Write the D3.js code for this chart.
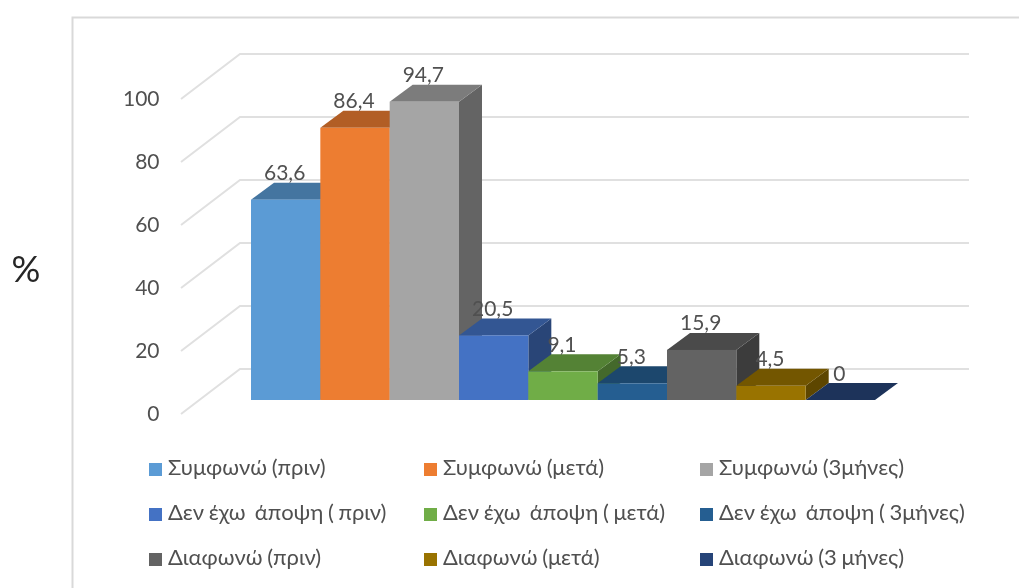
<!DOCTYPE html>
<html>
<head>
<meta charset="utf-8">
<script src="https://cdn.jsdelivr.net/npm/d3@7"></script>
<style>
body { margin: 0; background: #fff; }
svg { display: block; filter: blur(0.4px); }
text { font-family: Lato, sans-serif; fill: #505050; white-space: pre; }
</style>
</head>
<body>
<div id="chart"></div>
<script>
var w = 1019;
var h = 588;

// series names, in the order they sit on the chart
var categories = [
  "Συμφωνώ (πριν)", "Συμφωνώ (μετά)", "Συμφωνώ (3μήνες)",
  "Δεν έχω  άποψη ( πριν)", "Δεν έχω  άποψη ( μετά)", "Δεν έχω  άποψη ( 3μήνες)",
  "Διαφωνώ (πριν)", "Διαφωνώ (μετά)", "Διαφωνώ (3 μήνες)"
];
var values = [63.6, 86.4, 94.7, 20.5, 9.1, 5.3, 15.9, 4.5, 0];
var valueLabels = ["63,6", "86,4", "94,7", "20,5", "9,1", "5,3", "15,9", "4,5", "0"];
var colors = ["#5b9bd5", "#ed7d31", "#a5a5a5", "#4472c4", "#70ad47", "#255e91", "#636363", "#997300", "#264478"];
var yTicks = [0, 20, 40, 60, 80, 100];

var baseY = 400;      // bottom of the bars
var depthX = 23;      // bar depth
var depthY = 17;

var xScale = d3.scaleBand()
              .domain(categories)
              .range([251, 875]);

var yScale = d3.scaleLinear()
              .domain([0, 100])
              .range([baseY, baseY - 315]);

var svg = d3.select("#chart")
            .append("svg")
            .attr("width", w)
            .attr("height", h);

// outer frame, only left and top show
svg.append("path")
  .attr("d", "M72.5," + h + "V17.5H" + w)
  .attr("fill", "none")
  .attr("stroke", "#d9d9d9")
  .attr("stroke-width", 2);

// gridlines: front wall point to back wall, then across
var grid = svg.append("g")
  .attr("fill", "none")
  .attr("stroke", "#e0e0e0")
  .attr("stroke-width", 2);

grid.selectAll("path")
  .data(yTicks)
  .enter()
  .append("path")
  .attr("d", function(d) {
    var y = yScale(d);
    return "M181," + (y + 14) + "L240," + (y - 31) + "H969";
  });

// y axis labels
var yAxis = d3.axisLeft(yScale)
              .tickValues(yTicks)
              .tickSize(0)
              .tickPadding(0);

var axisG = svg.append("g")
  .attr("transform", "translate(159.5,14)")
  .call(yAxis);
axisG.select(".domain").remove();
axisG.selectAll("text")
  .style("font-family", "Lato, sans-serif")
  .style("font-size", "21px")
  .style("fill", "#505050");

svg.append("text")
  .attr("x", 26)
  .attr("y", 282)
  .attr("text-anchor", "middle")
  .style("font-size", "36px")
  .style("fill", "#262626")
  .text("%");

// bars go left to right so each one covers the side of the previous
var bars = svg.selectAll(".bar")
  .data(categories)
  .enter()
  .append("g")
  .attr("class", "bar");

// side
bars.append("path")
  .attr("fill", function(d, i) { return d3.rgb(colors[i]).darker(1.4); })
  .attr("d", function(d, i) {
    var x = xScale(d) + xScale.bandwidth();
    var top = yScale(values[i]);
    return "M" + x + "," + top + "l" + depthX + "," + (-depthY) + "V" + (baseY - depthY) + "l" + (-depthX) + "," + depthY + "Z";
  });

// top
bars.append("path")
  .attr("fill", function(d, i) { return d3.rgb(colors[i]).darker(0.8); })
  .attr("d", function(d, i) {
    var x = xScale(d);
    var top = yScale(values[i]);
    return "M" + x + "," + top + "l" + depthX + "," + (-depthY) + "h" + xScale.bandwidth() + "l" + (-depthX) + "," + depthY + "Z";
  });

// front
bars.append("rect")
  .attr("x", function(d) { return xScale(d); })
  .attr("y", function(d, i) { return yScale(values[i]); })
  .attr("width", xScale.bandwidth())
  .attr("height", function(d, i) { return baseY - yScale(values[i]); })
  .attr("fill", function(d, i) { return colors[i]; });

// value labels on top of everything
svg.selectAll(".value")
  .data(categories)
  .enter()
  .append("text")
  .attr("class", "value")
  .attr("x", function(d) { return xScale(d) + xScale.bandwidth() / 2 - 1; })
  .attr("y", function(d, i) { return yScale(values[i]) - 19.5; })
  .attr("text-anchor", "middle")
  .style("font-size", "21px")
  .text(function(d, i) { return valueLabels[i]; });

// legend, 3 x 3
var legendX = [149, 424, 700];
var legendY = [469, 514, 559];

var legend = svg.selectAll(".legend")
  .data(categories)
  .enter()
  .append("g")
  .attr("class", "legend")
  .attr("transform", function(d, i) {
    return "translate(" + legendX[i % 3] + "," + legendY[Math.floor(i / 3)] + ")";
  });

legend.append("rect")
  .attr("y", -6)
  .attr("width", 13)
  .attr("height", 13)
  .attr("fill", function(d, i) { return colors[i]; });

legend.append("text")
  .attr("x", 19)
  .attr("y", 6)
  .style("font-size", "22px")
  .style("word-spacing", "-1px")
  .text(function(d) { return d; });
</script>
</body>
</html>
